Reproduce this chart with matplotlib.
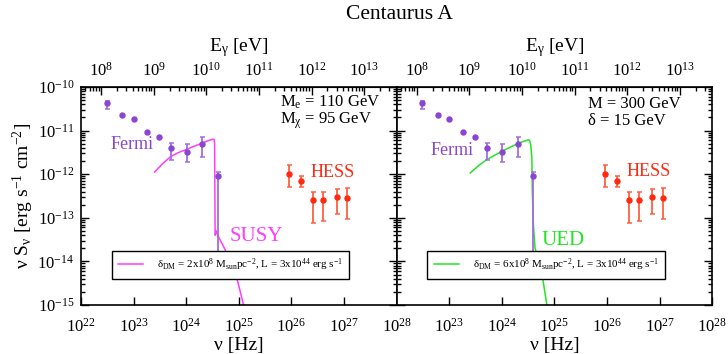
import numpy as np
import matplotlib.pyplot as plt
from matplotlib.lines import Line2D
from matplotlib.ticker import NullFormatter

plt.rcParams['font.family'] = ['Liberation Serif', 'DejaVu Serif']
plt.rcParams['mathtext.fontset'] = 'custom'
plt.rcParams['mathtext.rm'] = 'Liberation Serif'
plt.rcParams['mathtext.it'] = 'Liberation Serif:italic'
plt.rcParams['mathtext.default'] = 'regular'

H_EV = 4.135667e-15  # eV s, nu -> E_gamma

# Fermi points
fermi_nu = [3.09e22, 6.03e22, 1.0e23, 1.82e23, 3.09e23, 5.13e23, 1.02e24, 2.0e24, 3.98e24]
fermi_s = [4.27e-11, 2.24e-11, 1.82e-11, 9.3e-12, 7.1e-12, 4.0e-12, 3.2e-12, 4.9e-12, 8.9e-13]
fermi_hi = [4.9e-11, 2.24e-11, 1.82e-11, 9.3e-12, 7.1e-12, 5.1e-12, 4.9e-12, 7.1e-12, 1.1e-12]
fermi_lo = [3.1e-11, 2.24e-11, 1.82e-11, 9.3e-12, 7.1e-12, 2.1e-12, 1.9e-12, 2.5e-12, 8.5e-15]

# HESS points
hess_nu = [9.1e25, 1.55e26, 2.57e26, 4.07e26, 7.24e26, 1.15e27]
hess_s = [1.0e-12, 7.1e-13, 2.5e-13, 2.5e-13, 3.0e-13, 2.8e-13]
hess_hi = [1.6e-12, 8.9e-13, 4.0e-13, 4.0e-13, 4.5e-13, 4.9e-13]
hess_lo = [5.2e-13, 5.2e-13, 7.8e-14, 8.5e-14, 1.2e-13, 9.6e-14]

# model curves
susy_nu = [2.51e23, 3.55e23, 5.13e23, 7.24e23, 1.02e24, 1.41e24, 2.0e24, 2.63e24, 3.16e24,
           3.39e24, 3.47e24, 3.55e24, 3.76e24, 3.98e24, 5.5e24, 9.55e24, 1.26e25]
susy_s = [1.12e-12, 1.74e-12, 2.57e-12, 3.16e-12, 3.72e-12, 4.37e-12, 5.13e-12, 5.89e-12, 6.31e-12,
          6.31e-12, 5.0e-12, 3.98e-14, 5.0e-14, 3.98e-14, 1.86e-14, 3.47e-15, 8.9e-16]
ued_nu = [2.51e23, 3.55e23, 5.13e23, 7.41e23, 1.07e24, 1.51e24, 2.09e24, 2.69e24, 3.24e24,
          3.39e24, 3.55e24, 3.72e24, 3.80e24, 3.98e24, 4.27e24, 5.75e24, 7.24e24]
ued_s = [1.07e-12, 1.55e-12, 2.14e-12, 2.75e-12, 3.47e-12, 4.27e-12, 5.13e-12, 5.75e-12, 6.17e-12,
         5.89e-12, 4.68e-12, 2.34e-12, 3.98e-13, 6.9e-14, 2.04e-14, 5.5e-15, 9.3e-16]

nu_ticks_left = [1e22, 1e23, 1e24, 1e25, 1e26, 1e27, 1e28]
nu_ticks_right = [1e23, 1e24, 1e25, 1e26, 1e27, 1e28]
e_ticks = [1e8, 1e9, 1e10, 1e11, 1e12, 1e13]

FERMI_C = '#8a45d2'
HESS_C = '#ff2a10'


def draw_points(ax, nu, s, lo, hi, color, ecolor):
    nu, s, lo, hi = map(np.array, (nu, s, lo, hi))
    ax.plot(nu, s, 'o', ms=3.6, color=color, zorder=3)
    m = (hi > s) | (lo < s)
    ax.errorbar(nu[m], s[m], yerr=[s[m] - lo[m], hi[m] - s[m]], fmt='none',
                ecolor=ecolor, elinewidth=1.3, capsize=1.8, capthick=1.1, zorder=2)


def style_panel(ax, nu_ticks, show_y):
    ax.set_xscale('log')
    ax.set_yscale('log')
    ax.set_xlim(1e22, 1e28)
    ax.set_ylim(1e-15, 1e-10)
    ax.set_xticks(nu_ticks)
    ax.xaxis.set_minor_formatter(NullFormatter())
    ax.yaxis.set_minor_formatter(NullFormatter())
    for sp in ax.spines.values():
        sp.set_linewidth(1.2)
    ax.tick_params(which='both', direction='in', left=True, right=True, top=False,
                   labelsize=12, width=1)
    ax.tick_params(which='major', length=6)
    ax.tick_params(which='minor', length=3)
    ax.tick_params(axis='x', pad=9)
    ax.tick_params(axis='y', pad=5, labelleft=show_y)
    ax.set_xlabel('ν [Hz]', fontsize=14, labelpad=1)
    top = ax.secondary_xaxis('top', functions=(lambda x: x * H_EV, lambda x: x / H_EV))
    top.set_xticks(e_ticks)
    top.xaxis.set_minor_formatter(NullFormatter())
    top.tick_params(which='both', direction='in', labelsize=12, width=1, pad=5)
    top.tick_params(which='major', length=6)
    top.tick_params(which='minor', length=3)
    top.set_xlabel('E$_{γ}$ [eV]', fontsize=14, labelpad=8)


fig = plt.figure(figsize=(7.28, 3.54), dpi=100)
ax1 = fig.add_axes([0.1113, 0.1384, 0.4334, 0.6158])
ax2 = fig.add_axes([0.5449, 0.1384, 0.4334, 0.6158])

panels = [
    (ax1, susy_nu, susy_s, '#ff3cff', nu_ticks_left, True,
     'δ$_{DM}$ = 2x10$^{8}$ M$_{sun}$pc$^{-2}$, L = 3x10$^{44}$ erg s$^{-1}$'),
    (ax2, ued_nu, ued_s, '#22e622', nu_ticks_right, False,
     'δ$_{DM}$ = 6x10$^{8}$ M$_{sun}$pc$^{-2}$, L = 3x10$^{44}$ erg s$^{-1}$'),
]

for ax, cnu, cs, ccol, ticks, show_y, leg in panels:
    style_panel(ax, ticks, show_y)
    ax.plot(cnu, cs, color=ccol, lw=1.1, zorder=2)
    draw_points(ax, fermi_nu, fermi_s, fermi_lo, fermi_hi, FERMI_C, '#a06ee0')
    draw_points(ax, hess_nu, hess_s, hess_lo, hess_hi, HESS_C, '#ff6040')
    ax.legend([Line2D([], [], color=ccol, lw=1.1)], [leg], loc='center',
              bbox_to_anchor=(0.474, 0.1835), fontsize=7.9, fancybox=False,
              edgecolor='black', framealpha=1, handlelength=2.3, borderpad=0.55,
              handletextpad=1.3).get_frame().set_linewidth(1.0)

ax1.text(0.092, 0.734, 'Fermi', color=FERMI_C, fontsize=13, transform=ax1.transAxes, va='center')
ax2.text(0.106, 0.708, 'Fermi', color=FERMI_C, fontsize=13, transform=ax2.transAxes, va='center')
ax1.text(0.726, 0.606, 'HESS', color=HESS_C, fontsize=13, transform=ax1.transAxes, va='center')
ax2.text(0.730, 0.611, 'HESS', color=HESS_C, fontsize=13, transform=ax2.transAxes, va='center')
ax1.text(0.472, 0.312, 'SUSY', color='#ff3cff', fontsize=15, transform=ax1.transAxes, va='center')
ax2.text(0.460, 0.298, 'UED', color='#22e622', fontsize=15, transform=ax2.transAxes, va='center')

ax1.text(0.632, 0.930, 'M$_{e}$ = 110 GeV', fontsize=12, transform=ax1.transAxes, va='center')
ax1.text(0.632, 0.846, 'M$_{χ}$ = 95 GeV', fontsize=12, transform=ax1.transAxes, va='center')
ax2.text(0.607, 0.922, 'M = 300 GeV', fontsize=12, transform=ax2.transAxes, va='center')
ax2.text(0.607, 0.844, 'δ = 15 GeV', fontsize=12, transform=ax2.transAxes, va='center')

ax1.set_ylabel('ν S$_{ν}$ [erg s$^{-1}$ cm$^{-2}$]', fontsize=14, labelpad=1)
fig.text(0.549, 0.959, 'Centaurus A', fontsize=15.5, ha='center', va='center')

fig.savefig('out.png', dpi=100)
